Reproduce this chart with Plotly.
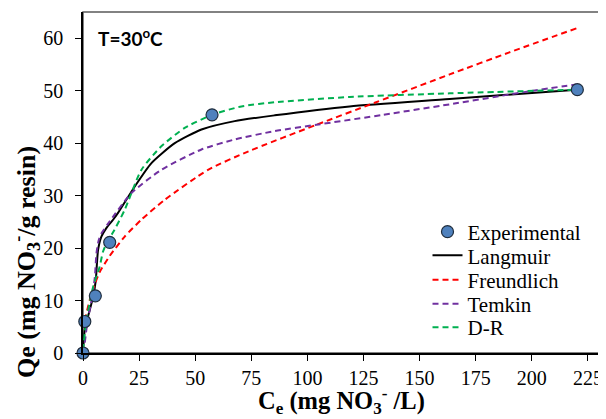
import plotly.graph_objects as go

# ---------------- data ----------------
exp_ce = [0, 0.8, 5.5, 11.9, 57.5, 220.3]
exp_qe = [0, 6.0, 10.9, 21.1, 45.4, 50.2]

lang_ce = [0, 0.8, 2.2, 4.5, 5.7, 6.7, 8.2, 10.4, 13.4, 15.6, 23, 30.5, 40.9, 52.8, 67.6, 85.4, 118.8, 163.4, 220]
lang_qe = [0, 4.5, 6.9, 10.7, 13.9, 19.6, 22.2, 23.8, 25.4, 26.7, 31.7, 36.2, 40.0, 42.6, 44.2, 45.3, 47.0, 48.4, 50.2]

freu_ce = [0.8, 3.0, 5.5, 7.4, 11.9, 18.6, 26, 36.4, 55.7, 73.5, 104, 130, 163.4, 190, 220]
freu_qe = [6.2, 10.1, 13.4, 15.4, 18.5, 22.2, 25.4, 29.2, 34.9, 38.4, 43.5, 47.7, 53.1, 57.3, 61.9]

temk_ce = [0.8, 2.0, 4.0, 5.3, 6.0, 7.0, 8.2, 11.1, 21.6, 34.9, 52.8, 67.6, 85.4, 104, 133.7, 163.4, 199, 220]
temk_qe = [2.0, 6.0, 10.5, 14.5, 19.0, 21.5, 22.8, 24.6, 30.5, 34.9, 38.8, 40.7, 42.3, 43.5, 45.4, 47.4, 49.9, 51.2]

dr_ce = [0, 1.5, 4.5, 7.4, 8.9, 11.1, 13.4, 18.6, 26, 34.9, 45.3, 57.5, 70.6, 85.4, 118.8, 163.4, 220]
dr_qe = [0.5, 6.3, 12.6, 16.4, 19.3, 21.5, 23.0, 27.3, 34.9, 39.4, 42.9, 45.4, 47.0, 47.8, 48.8, 49.5, 50.2]

x_ticks = [0, 25, 50, 75, 100, 125, 150, 175, 200, 225]
y_ticks = [0, 10, 20, 30, 40, 50, 60]

# ---------------- layout geometry ----------------
OFF = 8                      # page body margin offset
W, H = 606 - OFF, 419 - OFF  # figure size
# plot-area edges in screenshot pixels
P_LEFT, P_RIGHT, P_TOP, P_BOTTOM = 83, 600, 12, 353
ML = P_LEFT - OFF
MR = W - (P_RIGHT - OFF)
MT = P_TOP - OFF
MB = H - (P_BOTTOM - OFF)
PW, PH = W - ML - MR, H - MT - MB
SERIF = "Liberation Serif"


def px_x(p):
    """screenshot x pixel -> paper coordinate"""
    return (p - P_LEFT) / PW


def px_y(p):
    """screenshot y pixel -> paper coordinate"""
    return (P_BOTTOM - p) / PH


fig = go.Figure()

line_w = 2
fig.add_trace(go.Scatter(x=lang_ce, y=lang_qe, mode="lines", name="Langmuir",
                         line=dict(color="black", width=line_w, shape="spline", smoothing=0.6),
                         cliponaxis=False, legend="legend2"))
fig.add_trace(go.Scatter(x=freu_ce, y=freu_qe, mode="lines", name="Freundlich",
                         line=dict(color="#FF0000", width=line_w, dash="6px,4px", shape="spline", smoothing=0.6),
                         cliponaxis=False, legend="legend3"))
fig.add_trace(go.Scatter(x=temk_ce, y=temk_qe, mode="lines", name="Temkin",
                         line=dict(color="#7030A0", width=line_w, dash="6px,4px", shape="spline", smoothing=0.6),
                         cliponaxis=False, legend="legend4"))
fig.add_trace(go.Scatter(x=dr_ce, y=dr_qe, mode="lines", name="D-R",
                         line=dict(color="#00B050", width=line_w, dash="6px,4px", shape="spline", smoothing=0.6),
                         cliponaxis=False, legend="legend5"))
fig.add_trace(go.Scatter(x=exp_ce, y=exp_qe, mode="markers", name="Experimental",
                         marker=dict(size=12, color="#4F81BD", line=dict(color="#1F2D3D", width=1.2)),
                         cliponaxis=False, legend="legend"))

# legends: one per entry so the row spacing matches the reference
leg_font = dict(family=SERIF, size=21, color="black")
centers = [232, 255.7, 280.2, 304, 327.5]
leg_names = ["legend", "legend2", "legend3", "legend4", "legend5"]
leg_left = 427.5
legs = {}
for name, c in zip(leg_names, centers):
    legs[name] = dict(x=px_x(leg_left), y=px_y(c), xanchor="left", yanchor="middle",
                      font=leg_font, bgcolor="rgba(0,0,0,0)", borderwidth=0,
                      xref="paper", yref="paper")

fig.update_layout(
    width=W, height=H,
    margin=dict(l=ML, r=MR, t=MT, b=MB),
    paper_bgcolor="white", plot_bgcolor="white",
    font=dict(family=SERIF, color="black"),
    showlegend=True,
    **legs,
    xaxis=dict(range=[0, 230.4], tickvals=x_ticks, ticktext=[str(v) for v in x_ticks],
               showgrid=False, zeroline=False, showline=True, linecolor="black", linewidth=1.5,
               ticks="outside", ticklen=6, tickwidth=1.2, tickcolor="black",
               tickfont=dict(family=SERIF, size=20, color="black")),
    yaxis=dict(range=[0, 65], tickvals=y_ticks, ticktext=[str(v) for v in y_ticks],
               showgrid=False, zeroline=False, showline=True, linecolor="black", linewidth=1.5,
               ticks="outside", ticklen=6, tickwidth=1.2, tickcolor="black", ticklabelstandoff=8,
               tickfont=dict(family=SERIF, size=20, color="black")),
    shapes=[dict(type="rect", xref="paper", yref="paper", x0=0, x1=1, y0=0, y1=1,
                 line=dict(color="#5a5a5a", width=1.5), layer="below")],
    annotations=[
        dict(text="<b>T=30<sup>o</sup>C</b>", xref="paper", yref="paper",
             x=px_x(96), y=px_y(37), xanchor="left", yanchor="middle", showarrow=False,
             font=dict(family="Lato", size=19, color="black")),
        dict(text="<b>Qe (mg NO<sub>3</sub><sup>-</sup>/g resin)</b>", xref="paper", yref="paper",
             x=px_x(26), y=px_y(262), xanchor="center", yanchor="middle", textangle=-90,
             showarrow=False, font=dict(family=SERIF, size=26, color="black")),
        dict(text="<b>C<sub>e</sub> (mg NO<sub>3</sub><sup>-</sup> /L)</b>", xref="paper", yref="paper",
             x=px_x(341.5), y=px_y(401), xanchor="center", yanchor="middle",
             showarrow=False, font=dict(family=SERIF, size=24.5, color="black")),
    ],
)

fig.write_html("out.html")
